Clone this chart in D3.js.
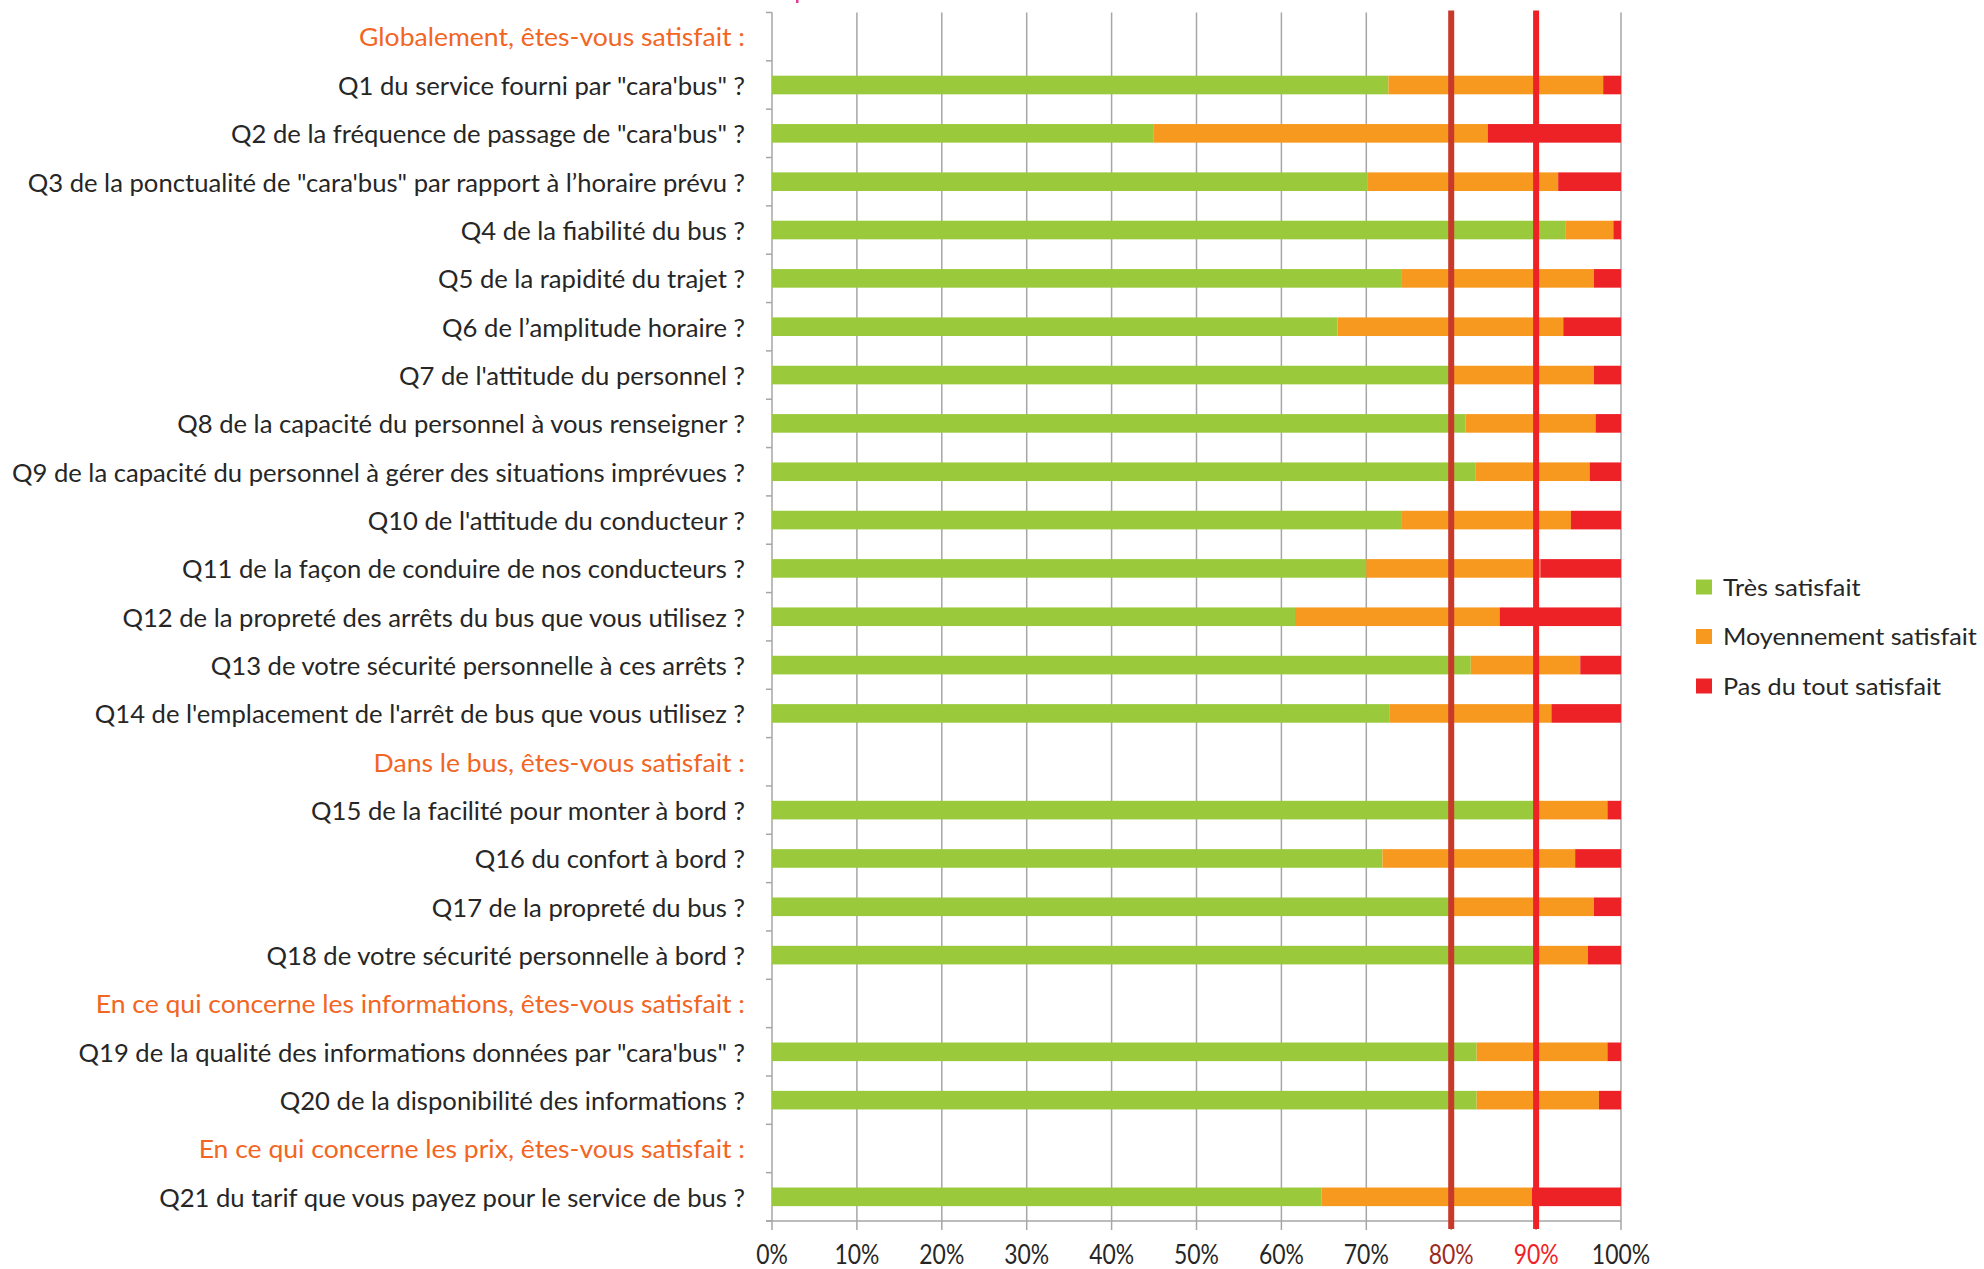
<!DOCTYPE html>
<html><head><meta charset="utf-8">
<script src="https://cdn.jsdelivr.net/npm/d3@7"></script>
<style>body{margin:0;background:#fff;} svg{display:block;font-family:Lato, "Open Sans", sans-serif;}</style>
</head><body><svg id="c" width="1984" height="1269"></svg>
<script>
const categories = [
  "Globalement, êtes-vous satisfait :",
  "Q1 du service fourni par \"cara'bus\" ?",
  "Q2 de la fréquence de passage de \"cara'bus\" ?",
  "Q3 de la ponctualité de \"cara'bus\" par rapport à l’horaire prévu ?",
  "Q4 de la fiabilité du bus ?",
  "Q5 de la rapidité du trajet ?",
  "Q6 de l’amplitude horaire ?",
  "Q7 de l'attitude du personnel ?",
  "Q8 de la capacité du personnel à vous renseigner ?",
  "Q9 de la capacité du personnel à gérer des situations imprévues ?",
  "Q10 de l'attitude du conducteur ?",
  "Q11 de la façon de conduire de nos conducteurs ?",
  "Q12 de la propreté des arrêts du bus que vous utilisez ?",
  "Q13 de votre sécurité personnelle à ces arrêts ?",
  "Q14 de l'emplacement de l'arrêt de bus que vous utilisez ?",
  "Dans le bus, êtes-vous satisfait :",
  "Q15 de la facilité pour monter à bord ?",
  "Q16 du confort à bord ?",
  "Q17 de la propreté du bus ?",
  "Q18 de votre sécurité personnelle à bord ?",
  "En ce qui concerne les informations, êtes-vous satisfait :",
  "Q19 de la qualité des informations données par \"cara'bus\" ?",
  "Q20 de la disponibilité des informations ?",
  "En ce qui concerne les prix, êtes-vous satisfait :",
  "Q21 du tarif que vous payez pour le service de bus ?"
];
const isHeader = [1,0,0,0,0,0,0,0,0,0,0,0,0,0,0,1,0,0,0,0,1,0,0,1,0];
const tresSatisfait =        [null,72.6,44.9,70.1,93.5,74.1,66.6,80.3,81.7,82.9,74.1,70.0,61.6,82.3,72.7,null,90.0,71.9,79.9,90.0,null,83.0,83.0,null,64.7];
const moyennementSatisfait = [null,25.3,39.4,22.5, 5.6,22.7,26.6,16.5,15.3,13.4,20.0,20.5,24.1,12.9,19.1,null, 8.4,22.7,16.9, 6.1,null,15.4,14.4,null,24.8];
const pasDuToutSatisfait =   [null, 2.1,15.7, 7.4, 0.9, 3.2, 6.8, 3.2, 3.0, 3.7, 5.9, 9.5,14.3, 4.8, 8.2,null, 1.6, 5.4, 3.2, 3.9,null, 1.6, 2.6,null,10.5];
const seriesNames = ["Très satisfait","Moyennement satisfait","Pas du tout satisfait"];
const seriesColors = ["#9aca3c","#f8991f","#ed2227"];
const xTicks = [0,10,20,30,40,50,60,70,80,90,100];
const tickLabels = ["0%","10%","20%","30%","40%","50%","60%","70%","80%","90%","100%"];
const refLines = [80,90];
const refColors = ["#c8392b","#ee2226"];
const tickLabelColors = {80:"#9b2b1f",90:"#ee2226"};

const svg = d3.select("#c");
const plotTop = 12.5, plotBottom = 1221, plotLeft = 772, plotRight = 1621;
const x = d3.scaleLinear().domain([0,100]).range([plotLeft,plotRight]);
const idx = categories.map((d,i)=>i);
const y = d3.scaleBand().domain(idx).range([plotTop,plotBottom]).paddingInner(0.615).paddingOuter(0.3075);
const yRow = d3.scaleLinear().domain([0,categories.length]).range([plotTop,plotBottom]);

// pink fragment at top (clipped title remnant)
svg.append("rect").attr("x",796).attr("y",0).attr("width",2.5).attr("height",3).attr("fill","#e0399a");

// gridlines
svg.append("g").selectAll("line").data(xTicks.filter(d=>d>0)).join("line")
  .attr("x1",d=>x(d)).attr("x2",d=>x(d)).attr("y1",plotTop).attr("y2",plotBottom)
  .attr("stroke","#a6a6a6").attr("stroke-width",1.5);

// y axis line and ticks
svg.append("line").attr("x1",x(0)).attr("x2",x(0)).attr("y1",plotTop).attr("y2",plotBottom)
  .attr("stroke","#a6a6a6").attr("stroke-width",1.5);
svg.append("g").selectAll("line").data(d3.range(categories.length+1)).join("line")
  .attr("x1",x(0)-6).attr("x2",x(0)).attr("y1",d=>yRow(d)).attr("y2",d=>yRow(d))
  .attr("stroke","#a6a6a6").attr("stroke-width",1.5);

// x axis
svg.append("line").attr("x1",x(0)-6).attr("x2",x(100)).attr("y1",plotBottom).attr("y2",plotBottom)
  .attr("stroke","#a6a6a6").attr("stroke-width",1.5);
svg.append("g").selectAll("line").data(xTicks).join("line")
  .attr("x1",d=>x(d)).attr("x2",d=>x(d)).attr("y1",plotBottom).attr("y2",plotBottom+9)
  .attr("stroke","#a6a6a6").attr("stroke-width",1.5);

// stacked bars
const table = idx.filter(i=>!isHeader[i]).map(i=>({i, s0:tresSatisfait[i], s1:moyennementSatisfait[i], s2:pasDuToutSatisfait[i]}));
const stack = d3.stack().keys(["s0","s1","s2"])(table);
svg.append("g").selectAll("g").data(stack).join("g")
  .attr("fill",(d,k)=>seriesColors[k])
  .selectAll("rect").data(d=>d).join("rect")
  .attr("x",d=>x(d[0])).attr("width",d=>x(d[1])-x(d[0]))
  .attr("y",d=>y(d.data.i)).attr("height",y.bandwidth());

// reference lines
svg.append("g").selectAll("line").data(refLines).join("line")
  .attr("x1",d=>x(d)).attr("x2",d=>x(d)).attr("y1",plotTop-2).attr("y2",plotBottom+8)
  .attr("stroke",(d,k)=>refColors[k]).attr("stroke-width",6);

// tick labels
const tl = svg.append("g").selectAll("g").data(xTicks).join("g")
  .attr("transform",d=>`translate(${x(d)},1254)`);
const tlt = tl.append("text").text((d,k)=>tickLabels[k])
  .attr("text-anchor","middle").attr("dominant-baseline","central")
  .attr("font-size",26.5).attr("fill",d=>tickLabelColors[d]||"#262626");
{
  const w = tlt.filter(d=>d===50).node().getComputedTextLength();
  const s = 45/w;
  tlt.attr("transform",`scale(${s},1)`);
}

// category labels
const cl = svg.append("g").selectAll("g").data(idx).join("g")
  .attr("transform",i=>`translate(745,${y(i)+y.bandwidth()/2})`);
const clt = cl.append("text").text(i=>categories[i])
  .attr("text-anchor","end").attr("dominant-baseline","central")
  .attr("font-size",25.5).attr("fill",i=>isHeader[i]?"#f26522":"#262626");
{
  const w = clt.filter(i=>i===3).node().getComputedTextLength();
  const s = 0.99*725/w;
  clt.attr("transform",i=>`scale(${isHeader[i]?s*1.035:s},1)`);
}

// legend
const lg = svg.append("g").selectAll("g").data(seriesNames).join("g")
  .attr("transform",(d,k)=>`translate(1696,${587+k*49.5})`);
lg.append("rect").attr("x",0).attr("y",-7.5).attr("width",16).attr("height",15).attr("fill",(d,k)=>seriesColors[k]);
const lgt = lg.append("text").attr("x",24).text(d=>d).attr("dominant-baseline","central")
  .attr("font-size",22.5).attr("fill","#262626");
{
  const w = lgt.filter((d,k)=>k===1).node().getComputedTextLength();
  const s = 254/w;
  lgt.attr("transform",`scale(${s},1)`);
}
</script></body></html>
